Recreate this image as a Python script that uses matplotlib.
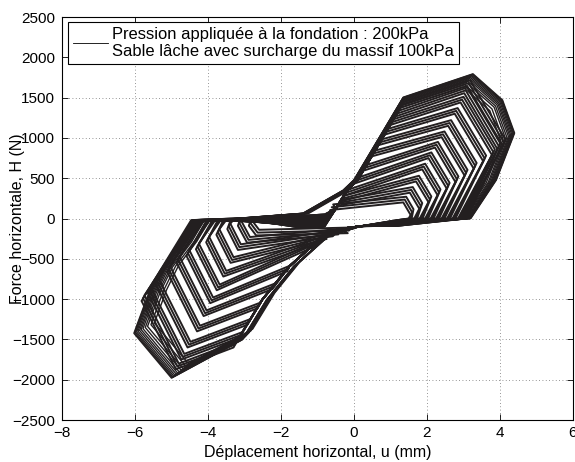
import matplotlib.pyplot as plt
import numpy as np

plt.rcParams['font.family'] = ['Liberation Sans', 'DejaVu Sans']

# --- cyclic steps (one per displacement amplitude) ---
# upper lobe: knee on backbone -> peak -> tip (max displacement) -> back to H=0
pos_knee_u = [-0.65, -0.44, -0.375, -0.275, -0.01, 0.25, 0.48, 0.667, 0.838, 0.996, 1.134, 1.279]
pos_knee_f = [105, 160, 210, 282, 430, 592, 770, 910, 1040, 1160, 1265, 1375]
pos_peak_u = [1.35, 1.53, 1.70, 1.87, 2.04, 2.22, 2.40, 2.58, 2.76, 2.92, 3.02, 3.10]
pos_peak_f = [200, 320, 460, 610, 750, 880, 1010, 1150, 1300, 1440, 1555, 1645]
pos_tip_u = [1.55, 1.79, 2.04, 2.29, 2.54, 2.78, 3.03, 3.28, 3.54, 3.78, 3.93, 4.07]
pos_tip_f = [45, 121, 203, 290, 372, 452, 533, 619, 711, 788, 861, 909]
pos_zero_u = [1.50, 1.65, 1.80, 1.95, 2.10, 2.25, 2.40, 2.55, 2.70, 2.85, 2.92, 3.00]
pos_zero_f = 0
# levels of the return path through the pinch
up_band_f = [-110, -95, -82, -70, -58, -45, -35, -22, -10, 2, 15, 30]     # at u = -1.5
up_band2_f = [-95, -84, -72, -60, -48, -36, -24, -10, 2, 16, 32, 50]      # at u = -0.8
down_band_f = [-20, -28, -35, -42, -48, -55, -60, -66, -72, -78, -84, -90]  # at u = 1.2

# lower lobe
neg_knee_u = [-0.09, -0.35, -0.50, -0.67, -0.89, -1.00, -1.746, -2.15, -2.56, -2.84, -3.06, -3.22]
neg_knee_f = [-112, -127, -150, -184, -231, -277, -584, -804, -1043, -1248, -1410, -1530]
neg_peak_u = [-2.60, -2.85, -3.10, -3.30, -3.50, -3.68, -3.86, -4.04, -4.22, -4.48, -4.65, -4.80]
neg_peak_f = [-140, -230, -320, -480, -650, -820, -980, -1140, -1330, -1530, -1680, -1800]
neg_tip_u = [-2.80, -3.10, -3.39, -3.69, -3.97, -4.25, -4.51, -4.78, -5.04, -5.36, -5.57, -5.74]
neg_tip_f = [-20, -20, -61, -131, -225, -311, -393, -475, -590, -740, -853, -953]
neg_zero_u = [-2.75, -3.05, -3.30, -3.50, -3.65, -3.80, -3.95, -4.10, -4.20, -4.30, -4.35, -4.38]
neg_zero_f = -20

# each amplitude is repeated three times, drifting slightly outwards
repeat_du = [0.00, 0.04, 0.08]
repeat_df = [0, 35, 70]

# shared path through the pinch and along the backbones
up_path_u = [-0.50, -0.18, 0.10, 1.45]
up_path_f = [120, 350, 480, 1505]
down_path_u = [0.20, -0.40, -0.87, -1.78, -2.52, -3.19, -3.45]
down_path_f = [-95, -130, -225, -598, -1011, -1507, -1700]
up_band_u = -1.50
up_band2_u = -0.80
down_band_u = 1.20

# --- outer (largest) loop and its repeats ---
outer_u = [-4.40, -1.40, -0.30, 0.00, 1.35, 3.26, 4.07, 4.40, 3.90, 3.20, 1.50, 0.16,
           -0.75, -1.66, -2.40, -3.07, -5.00, -6.03, -5.66, -5.30, -4.75, -4.40]
outer_f = [-40, 65, 350, 480, 1505, 1795, 1470, 1060, 478, 0, -60, -100,
           -225, -598, -1011, -1507, -1980, -1424, -970, -639, -310, -40]
outer_scale = [0.91, 0.925, 0.94, 0.95, 0.96, 0.968, 0.975, 0.982, 0.988, 0.993, 0.997, 1.0]
outer_centre_u = 0.2

line_col = '#231f20'

fig = plt.figure(figsize=(5.75, 4.62), dpi=100)
ax = fig.add_axes([0.1078, 0.0909, 0.8887, 0.8723])

for k in range(len(pos_peak_u)):
    for du, df in zip(repeat_du, repeat_df):
        us = [up_band_u, up_band2_u]
        fs = [up_band_f[k], up_band2_f[k]]
        for u, f in zip(up_path_u, up_path_f):
            if f < pos_knee_f[k] + df:
                us.append(u)
                fs.append(f)
        us += [pos_knee_u[k] + du, pos_peak_u[k] + du, pos_tip_u[k] + du, pos_zero_u[k] + du,
               down_band_u]
        fs += [pos_knee_f[k] + df, pos_peak_f[k] + df, pos_tip_f[k] + df, pos_zero_f,
               down_band_f[k]]
        for u, f in zip(down_path_u, down_path_f):
            if f > neg_knee_f[k] - df:
                us.append(u)
                fs.append(f)
        us += [neg_knee_u[k] - du, neg_peak_u[k] - du, neg_tip_u[k] - du,
               neg_zero_u[k] - du, up_band_u]
        fs += [neg_knee_f[k] - df, neg_peak_f[k] - df, neg_tip_f[k] - df,
               neg_zero_f, up_band_f[k]]
        ax.plot(us, fs, color=line_col, lw=1.4)

ou = np.array(outer_u)
of = np.array(outer_f)
for s in outer_scale:
    ax.plot(outer_centre_u + s * (ou - outer_centre_u), s * of, color=line_col, lw=1.0)

# legend entry drawn with a thin line like the reference
ax.plot([], [], color='black', lw=0.6,
        label="Pression appliquée à la fondation : 200kPa\n"
              "Sable lâche avec surcharge du massif 100kPa")

ax.set_xlim(-8, 6)
ax.set_ylim(-2500, 2500)
ax.set_xticks(np.arange(-8, 7, 2))
ax.set_yticks(np.arange(-2500, 2501, 500))
ax.tick_params(direction='in', top=True, right=True, length=4, width=0.6,
               labelsize=11, pad=4)
ax.tick_params(axis='y', pad=5)
ax.grid(True, linestyle=(0, (1, 3)), linewidth=0.6, color='0.45')
for sp in ax.spines.values():
    sp.set_linewidth(0.8)

ax.set_xlabel("Déplacement horizontal, u (mm)", fontsize=11.5)
ax.set_ylabel("Force horizontale, H (N)", fontsize=11.5)
ax.yaxis.set_label_coords(-0.072, 0.5)

ax.legend(loc='upper left', bbox_to_anchor=(0.0117, 0.9876), borderaxespad=0,
          fontsize=11.9, fancybox=False, framealpha=1, edgecolor='black',
          handlelength=2.1, handletextpad=0.25, borderpad=0.3)
ax.get_legend().get_frame().set_linewidth(0.8)

plt.savefig("out.png", dpi=100)
